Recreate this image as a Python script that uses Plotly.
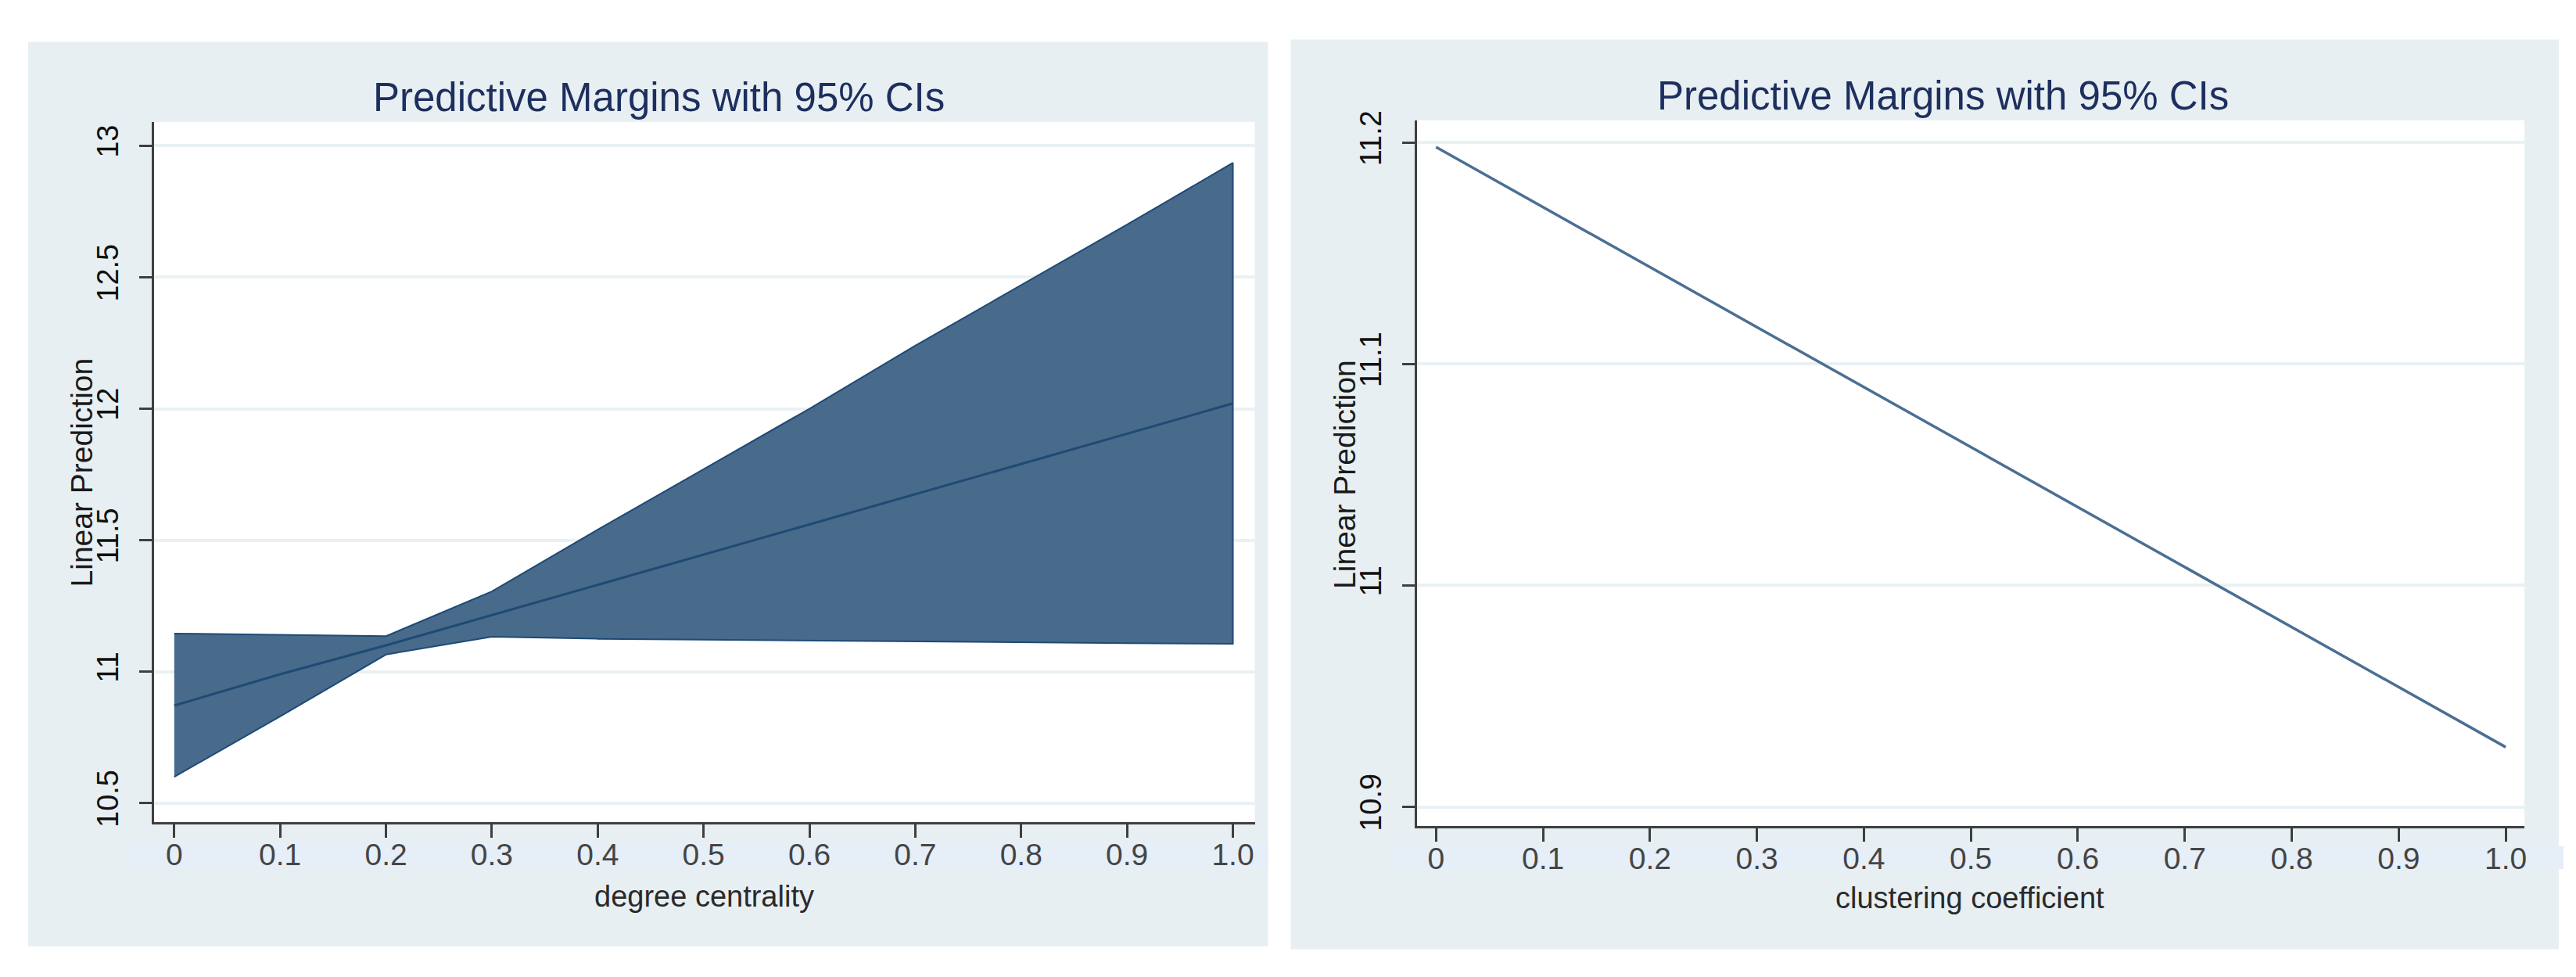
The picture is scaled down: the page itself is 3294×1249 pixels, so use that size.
import plotly.graph_objects as go

W, H = 3294, 1249

# ── data ──────────────────────────────────────────────────────────────────
X_TICKS = [0, 0.1, 0.2, 0.3, 0.4, 0.5, 0.6, 0.7, 0.8, 0.9, 1.0]
X_TICK_TEXT = ["0", "0.1", "0.2", "0.3", "0.4", "0.5", "0.6", "0.7", "0.8", "0.9", "1.0"]

deg_x = [0, 0.1, 0.2, 0.3, 0.4, 0.5, 0.6, 0.7, 0.8, 0.9, 1.0]
deg_fit = [10.871, 10.99, 11.10, 11.215, 11.33, 11.445, 11.56, 11.675, 11.79, 11.905, 12.02]
deg_hi = [11.145, 11.14, 11.135, 11.305, 11.54, 11.77, 12.00, 12.24, 12.47, 12.70, 12.935]
deg_lo = [10.60, 10.83, 11.065, 11.133, 11.125, 11.122, 11.12, 11.114, 11.112, 11.108, 11.106]
deg_yticks = [10.5, 11, 11.5, 12, 12.5, 13]
deg_yticktext = ["10.5", "11", "11.5", "12", "12.5", "13"]

clu_x = [0, 1.0]
clu_fit = [11.198, 10.927]
clu_yticks = [10.9, 11, 11.1, 11.2]
clu_yticktext = ["10.9", "11", "11.1", "11.2"]

TITLE = "Predictive Margins with 95% CIs"

FONT = "Liberation Sans, Arial, Helvetica, sans-serif"
PANEL = "#e8eff2"
LABEL_BAND = "#e6eef7"
GRID = "#eaf1f4"
AXIS = "#3f3f3f"
FILL = "#486a8b"
EDGE = "#1f4a75"
LINE_R = "#4a6f92"
TITLE_INK = "#1d2f5e"

# plot-area pixel boxes (left, top, right, bottom)
LEFT_BOX = (189, 137, 1598, 1047)
RIGHT_BOX = (1806, 135, 3223, 1052)


def px_x(p):
    return p / W


def px_y(p):
    return 1 - p / H


fig = go.Figure()

# CI band (left)
fig.add_trace(go.Scatter(
    x=deg_x + deg_x[::-1], y=deg_hi + deg_lo[::-1],
    fill="toself", fillcolor=FILL, mode="lines",
    line=dict(color=EDGE, width=2), hoverinfo="skip", showlegend=False,
    xaxis="x", yaxis="y",
))
fig.add_trace(go.Scatter(
    x=deg_x, y=deg_fit, mode="lines",
    line=dict(color=EDGE, width=3), showlegend=False,
    xaxis="x", yaxis="y",
))
# point estimate (right)
fig.add_trace(go.Scatter(
    x=clu_x, y=clu_fit, mode="lines",
    line=dict(color=LINE_R, width=3.5), showlegend=False,
    xaxis="x2", yaxis="y2",
))

xaxis_common = dict(
    tickvals=X_TICKS, ticktext=X_TICK_TEXT,
    ticks="outside", ticklen=17, tickwidth=3, tickcolor=AXIS,
    showline=True, linecolor=AXIS, linewidth=3,
    showgrid=False, zeroline=False, ticklabelstandoff=-12,
    tickfont=dict(family=FONT, size=39, color="#454545"),
)
yaxis_common = dict(
    ticks="outside", ticklen=16, tickwidth=3, tickcolor=AXIS,
    showline=True, linecolor=AXIS, linewidth=3,
    showgrid=True, gridcolor=GRID, gridwidth=4, zeroline=False,
    tickangle=-90, ticklabelstandoff=12,
    tickfont=dict(family=FONT, size=38, color="#111111"),
)

fig.update_layout(
    width=W, height=H,
    margin=dict(l=0, r=0, t=0, b=0),
    paper_bgcolor="white", plot_bgcolor="rgba(0,0,0,0)",
    showlegend=False,
    xaxis=dict(domain=[px_x(LEFT_BOX[0]), px_x(LEFT_BOX[2])], range=[-0.0192, 1.0207],
               anchor="y", **xaxis_common),
    yaxis=dict(domain=[px_y(LEFT_BOX[3]), px_y(LEFT_BOX[1])], range=[10.427, 13.091],
               anchor="x", tickvals=deg_yticks, ticktext=deg_yticktext, **yaxis_common),
    xaxis2=dict(domain=[px_x(RIGHT_BOX[0]), px_x(RIGHT_BOX[2])], range=[-0.0175, 1.0175],
                anchor="y2", **xaxis_common),
    yaxis2=dict(domain=[px_y(RIGHT_BOX[3]), px_y(RIGHT_BOX[1])], range=[10.8913, 11.2101],
                anchor="x2", tickvals=clu_yticks, ticktext=clu_yticktext, **yaxis_common),
)

# grey graph regions, faint strip behind x tick labels, white plot regions
rects = [
    ((28, 33, 1615, 1208), PANEL),
    ((1644, 30, 3267, 1212), PANEL),
    ((157, 1075, 1615, 1107), LABEL_BAND),
    ((1773, 1078, 3273, 1108), LABEL_BAND),
    (LEFT_BOX, "white"),
    (RIGHT_BOX, "white"),
]
for (x0, y0, x1, y1), color in rects:
    fig.add_shape(type="rect", xref="paper", yref="paper", layer="below",
                  x0=px_x(x0), x1=px_x(x1), y0=px_y(y1), y1=px_y(y0),
                  fillcolor=color, line_width=0)

# titles & axis titles
notes = [
    (835, 105, TITLE, 51, TITLE_INK, 0),
    (2479, 103, TITLE, 51, TITLE_INK, 0),
    (97, 592, "Linear Prediction", 39, "#1a1a1a", -90),
    (1713, 595, "Linear Prediction", 39, "#1a1a1a", -90),
    (893, 1143, "degree centrality", 38, "#2a2a2a", 0),
    (2513, 1145, "clustering coefficient", 38, "#2a2a2a", 0),
]
for x, y, text, size, color, angle in notes:
    fig.add_annotation(x=px_x(x), y=px_y(y), xref="paper", yref="paper",
                       text=text, showarrow=False, textangle=angle,
                       xanchor="center", yanchor="middle",
                       font=dict(family=FONT, size=size, color=color))

fig.write_html("out.html")
